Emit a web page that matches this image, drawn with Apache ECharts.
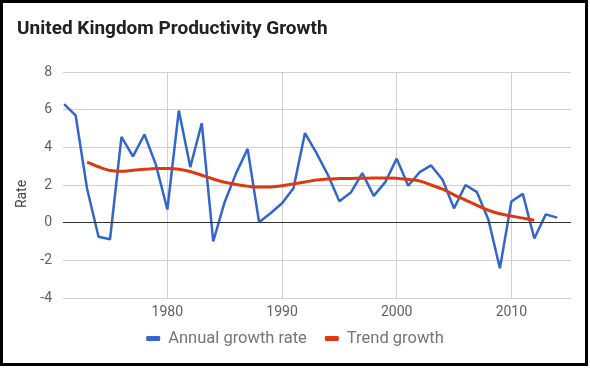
<!DOCTYPE html>
<html>
<head>
<meta charset="utf-8">
<script src="https://cdn.jsdelivr.net/npm/echarts@6/dist/echarts.min.js"></script>
<style>
  html, body { margin: 0; padding: 0; background: #fff; }
  #main { width: 590px; height: 368px; }
</style>
</head>
<body>
<div id="main"></div>
<script>
// annual figures, 1971 - 2014
let years = [];
for (let y = 1971; y <= 2014; y++) years.push(y);
let growth = [6.3, 5.7, 1.8, -0.75, -0.88, 4.55, 3.52, 4.68, 3.08, 0.7,
  5.95, 2.95, 5.28, -1.0, 1.1, 2.63, 3.92, 0.02, 0.5, 1.03,
  1.83, 4.76, 3.7, 2.54, 1.14, 1.6, 2.63, 1.42, 2.15, 3.4,
  1.96, 2.68, 3.04, 2.28, 0.76, 2.0, 1.62, 0.15, -2.42, 1.12,
  1.53, -0.84, 0.44, 0.27];

// trend, 1973 - 2012
let trendYears = [];
for (let y = 1973; y <= 2012; y++) trendYears.push(y);
let trend = [3.22, 2.97, 2.77, 2.73, 2.78, 2.83, 2.87, 2.87, 2.84, 2.72,
  2.52, 2.32, 2.15, 2.03, 1.94, 1.89, 1.9, 1.96, 2.06, 2.16,
  2.26, 2.32, 2.34, 2.35, 2.36, 2.37, 2.37, 2.36, 2.3, 2.22,
  2.0, 1.78, 1.48, 1.2, 0.92, 0.66, 0.47, 0.35, 0.24, 0.13];

let decadeTicks = [1980, 1990, 2000, 2010];
let yTicks = { min: -4, max: 8, step: 2 };

let chartDom = document.getElementById('main');
let myChart = echarts.init(chartDom);

let option = {
  animation: false,
  textStyle: { fontFamily: 'Roboto' },
  title: {
    text: 'United Kingdom Productivity Growth',
    left: 12,
    top: 15,
    textStyle: {
      fontFamily: 'Roboto',
      fontSize: 19,
      fontWeight: 'bold',
      color: '#212121'
    }
  },
  graphic: [
    {
      type: 'rect',
      shape: { x: 1.5, y: 1.5, width: 585, height: 363 },
      style: { fill: 'none', stroke: '#000', lineWidth: 3 },
      silent: true
    },
    {
      type: 'text',
      x: 22,
      y: 194,
      rotation: Math.PI / 2,
      style: {
        text: 'Rate',
        fontFamily: 'Roboto',
        fontSize: 14,
        fill: '#444',
        textAlign: 'center',
        textVerticalAlign: 'middle'
      }
    }
  ],
  legend: {
    bottom: 16,
    left: 'center',
    icon: 'roundRect',
    itemWidth: 14,
    itemHeight: 5,
    itemGap: 18,
    textStyle: { fontFamily: 'Roboto', fontSize: 16.5, color: '#757575', padding: [0, 0, 0, 3] },
    data: ['Annual growth rate', 'Trend growth']
  },
  grid: {
    left: 63,
    right: 19,
    top: 72,
    bottom: 70
  },
  xAxis: {
    type: 'value',
    min: 1970.9,
    max: 2015.2,
    axisLine: { show: false },
    axisTick: { show: false, customValues: decadeTicks },
    axisLabel: {
      customValues: decadeTicks,
      formatter: function (v) { return String(v); },
      color: '#616161',
      fontSize: 14,
      margin: 7
    },
    splitLine: { show: true, lineStyle: { color: '#d0d0d0' } }
  },
  yAxis: {
    type: 'value',
    min: yTicks.min,
    max: yTicks.max,
    interval: yTicks.step,
    axisLine: { show: false },
    axisTick: { show: false },
    axisLabel: { color: '#616161', fontSize: 14, margin: 11 },
    splitLine: { lineStyle: { color: '#d0d0d0' } }
  },
  series: [
    {
      name: 'Annual growth rate',
      type: 'line',
      showSymbol: false,
      color: '#3366cc',
      lineStyle: { width: 2.5 },
      data: years.map((y, i) => [y, growth[i]]),
      markLine: {
        silent: true,
        symbol: 'none',
        label: { show: false },
        lineStyle: { color: '#333', width: 1, type: 'solid' },
        data: [{ yAxis: 0 }]
      },
      z: 3
    },
    {
      name: 'Trend growth',
      type: 'line',
      showSymbol: false,
      smooth: 0.3,
      color: '#dc3912',
      lineStyle: { width: 3 },
      data: trendYears.map((y, i) => [y, trend[i]]),
      z: 4
    }
  ]
};

option && myChart.setOption(option);
</script>
</body>
</html>
